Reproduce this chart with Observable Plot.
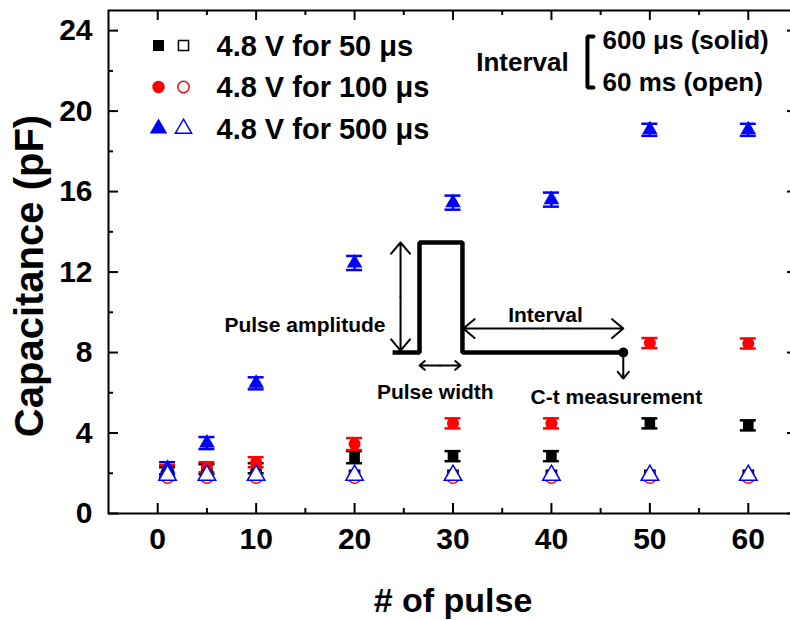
<!DOCTYPE html>
<html><head><meta charset="utf-8">
<script src="https://cdn.jsdelivr.net/npm/d3@7"></script>
<script src="https://cdn.jsdelivr.net/npm/@observablehq/plot@0.6"></script>
<style>body{margin:0;background:#fff}</style>
</head><body><div id="chart"></div>
<script>
// ---- data ----
const pulses   = [1, 5, 10, 20, 30, 40, 50, 60];
const solid50  = [2.05, 2.2, 2.25, 2.8, 2.85, 2.85, 4.48, 4.38];
const solid100 = [2.15, 2.3, 2.55, 3.45, 4.48, 4.48, 8.47, 8.45];
const solid500 = [2.25, 3.5, 6.47, 12.45, 15.45, 15.6, 19.07, 19.07];
const err50    = [0.25, 0.25, 0.25, 0.3, 0.25, 0.25, 0.25, 0.25];
const err100   = [0.25, 0.25, 0.25, 0.3, 0.25, 0.25, 0.25, 0.25];
const err500   = [0.3, 0.3, 0.3, 0.35, 0.35, 0.35, 0.3, 0.3];
const open50   = [1.9, 1.9, 1.9, 1.9, 1.9, 1.9, 1.9, 1.9];
const open100  = [1.8, 1.8, 1.8, 1.8, 1.8, 1.8, 1.8, 1.8];
const open500  = [1.9, 1.9, 1.9, 1.9, 1.9, 1.9, 1.9, 1.9];
const seriesLabels  = ["4.8 V for 50 \u03bcs", "4.8 V for 100 \u03bcs", "4.8 V for 500 \u03bcs"];
const seriesColors  = ["#000000", "#ff0000", "#0000ff"];
const seriesSymbols = ["square", "circle", "triangle"];
const xTicks  = [0, 10, 20, 30, 40, 50, 60];
const xMinor  = [5, 15, 25, 35, 45, 55];
const yTicks  = [0, 4, 8, 12, 16, 20, 24];
const yMinor  = [2, 6, 10, 14, 18, 22];
const intervalNote = ["Interval", "600 \u03bcs (solid)", "60 ms (open)"];
// pulse sketch (in data units of the chart)
const pulseX = [23.86, 26.6, 26.6, 30.96, 30.96, 47.3];
const pulseY = [8, 8, 13.47, 13.47, 8, 8];

// ---- layout ----
const W = 790, H = 620, mL = 108, mT = 10, mB = 107, mR = -7;
const xDom = [-5, 65], yDom = [0, 25];
const xPerPx = (xDom[1] - xDom[0]) / (W - mL - mR);
const yPerPx = (yDom[1] - yDom[0]) / (H - mT - mB);
const FONT = "'Liberation Sans', Arial, sans-serif";
const majorLen = 10, minorLen = 5;

function seriesMarks(vals, errs, color, symbol, r) {
  const rows = pulses.map((p, i) => ({x: p, y: vals[i], e: errs[i]}));
  const cap = 8 * xPerPx;
  return [
    Plot.ruleX(rows, {x: "x", y1: d => d.y - d.e, y2: d => d.y + d.e, stroke: color, strokeWidth: 2.5}),
    Plot.ruleY(rows, {y: d => d.y - d.e, x1: d => d.x - cap, x2: d => d.x + cap, stroke: color, strokeWidth: 2.5}),
    Plot.ruleY(rows, {y: d => d.y + d.e, x1: d => d.x - cap, x2: d => d.x + cap, stroke: color, strokeWidth: 2.5}),
    Plot.dot(rows, {x: "x", y: "y", symbol, r, fill: color, stroke: "none"})
  ];
}
function openMarks(vals, color, symbol, r) {
  const rows = pulses.map((p, i) => ({x: p, y: vals[i]}));
  return Plot.dot(rows, {x: "x", y: "y", symbol, r, fill: "white", stroke: color, strokeWidth: 1.5});
}
function dblArrow(x1, y1, x2, y2) {
  const mx = (x1 + x2) / 2, my = (y1 + y2) / 2;
  return Plot.arrow([[mx, my, x1, y1], [mx, my, x2, y2]], {
    x1: d => d[0], y1: d => d[1], x2: d => d[2], y2: d => d[3],
    stroke: "black", strokeWidth: 2, headLength: 11, headAngle: 80
  });
}

const legendMarks = [];
seriesLabels.forEach((lab, i) => {
  const dy = 35 + i * 41.5;
  const sz = seriesSymbols[i] === "triangle" ? 6.5 : 6.2;
  legendMarks.push(
    Plot.dot([lab], {frameAnchor: "top-left", dx: 50, dy, symbol: seriesSymbols[i], r: sz, fill: seriesColors[i], stroke: "none"}),
    Plot.dot([lab], {frameAnchor: "top-left", dx: 75, dy, symbol: seriesSymbols[i], r: sz - 0.5, fill: "white", stroke: seriesColors[i], strokeWidth: 1.5}),
    Plot.text([lab], {frameAnchor: "top-left", dx: 108, dy: dy + 1, text: d => d, textAnchor: "start", lineAnchor: "middle", fontSize: 29, fontWeight: "bold", fill: "black"})
  );
});

const chart = Plot.plot({
  width: W, height: H,
  marginLeft: mL, marginTop: mT, marginBottom: mB, marginRight: mR,
  style: {fontFamily: FONT, background: "white", color: "black"},
  x: {domain: xDom, axis: null},
  y: {domain: yDom, axis: null},
  marks: [
    // ticks (inward) on all four sides
    Plot.ruleX(xTicks, {x: d => d, y1: yDom[0], y2: yDom[0] + majorLen * yPerPx, strokeWidth: 2}),
    Plot.ruleX(xMinor, {x: d => d, y1: yDom[0], y2: yDom[0] + minorLen * yPerPx, strokeWidth: 2}),
    Plot.ruleX(xTicks, {x: d => d, y1: yDom[1], y2: yDom[1] - majorLen * yPerPx, strokeWidth: 2}),
    Plot.ruleX(xMinor, {x: d => d, y1: yDom[1], y2: yDom[1] - minorLen * yPerPx, strokeWidth: 2}),
    Plot.ruleY(yTicks, {y: d => d, x1: xDom[0], x2: xDom[0] + majorLen * xPerPx, strokeWidth: 2}),
    Plot.ruleY(yMinor, {y: d => d, x1: xDom[0], x2: xDom[0] + minorLen * xPerPx, strokeWidth: 2}),
    Plot.ruleY(yTicks, {y: d => d, x1: xDom[1], x2: xDom[1] - majorLen * xPerPx, strokeWidth: 2}),
    Plot.ruleY(yMinor, {y: d => d, x1: xDom[1], x2: xDom[1] - minorLen * xPerPx, strokeWidth: 2}),
    Plot.axisX(xTicks, {anchor: "bottom", tickSize: 0, tickPadding: 14, fontSize: 30, fontWeight: "bold", label: null}),
    Plot.axisY(yTicks, {anchor: "left", tickSize: 0, tickPadding: 16, fontSize: 30, fontWeight: "bold", label: null}),
    Plot.frame({stroke: "black", strokeWidth: 2}),
    Plot.text(["Capacitance (pF)"], {frameAnchor: "left", dx: -78, dy: 14, rotate: -90, textAnchor: "middle", lineAnchor: "middle", fontSize: 40, fontWeight: "bold", fill: "black"}),
    Plot.text(["# of pulse"], {frameAnchor: "bottom", dy: 88, textAnchor: "middle", lineAnchor: "middle", fontSize: 34, fontWeight: "bold", fill: "black"}),

    // pulse sketch
    Plot.line(pulseX.map((x, i) => ({x, y: pulseY[i]})), {x: "x", y: "y", stroke: "black", strokeWidth: 4.5, strokeLinejoin: "miter", strokeLinecap: "butt"}),
    Plot.dot([[pulseX[5], pulseY[5]]], {x: d => d[0], y: d => d[1], r: 5, fill: "black"}),
    dblArrow(24.67, 8.1, 24.67, 13.47),
    dblArrow(26.6, 7.36, 30.76, 7.36),
    dblArrow(31.05, 9.19, 47.3, 9.19),
    Plot.arrow([[47.3, 8, 47.3, 6.71]], {x1: d => d[0], y1: d => d[1], x2: d => d[2], y2: d => d[3], stroke: "black", strokeWidth: 2, headLength: 11, headAngle: 80}),
    Plot.text(["Pulse amplitude"], {x: 23.14, y: 9.34, text: d => d, textAnchor: "end", fontSize: 21, fontWeight: "bold", fill: "black"}),
    Plot.text(["Pulse width"], {x: 28.2, y: 6.01, text: d => d, fontSize: 21, fontWeight: "bold", fill: "black"}),
    Plot.text(["Interval"], {x: 39.4, y: 9.84, text: d => d, fontSize: 21, fontWeight: "bold", fill: "black"}),
    Plot.text(["C-t measurement"], {x: 46.6, y: 5.77, text: d => d, fontSize: 21, fontWeight: "bold", fill: "black"}),

    // interval note (top right)
    Plot.text([intervalNote[0]], {x: 41.76, y: 22.42, text: d => d, textAnchor: "end", fontSize: 26, fontWeight: "bold", fill: "black"}),
    Plot.line([[44.27, 23.71], [43.66, 23.71], [43.66, 21.17], [44.27, 21.17]], {x: d => d[0], y: d => d[1], stroke: "black", strokeWidth: 4, strokeLinejoin: "miter"}),
    Plot.text([intervalNote[1]], {x: 45.19, y: 23.51, text: d => d, textAnchor: "start", fontSize: 26, fontWeight: "bold", fill: "black"}),
    Plot.text([intervalNote[2]], {x: 45.19, y: 21.42, text: d => d, textAnchor: "start", fontSize: 26, fontWeight: "bold", fill: "black"}),

    // data
    ...seriesMarks(solid50, err50, seriesColors[0], "square", 6),
    ...seriesMarks(solid100, err100, seriesColors[1], "circle", 6),
    ...seriesMarks(solid500, err500, seriesColors[2], "triangle", 5.8),
    openMarks(open50, seriesColors[0], "square", 5.8),
    openMarks(open100, seriesColors[1], "circle", 6),
    openMarks(open500, seriesColors[2], "triangle", 6.5),

    ...legendMarks
  ]
});
document.getElementById("chart").appendChild(chart);
</script>
</body></html>
